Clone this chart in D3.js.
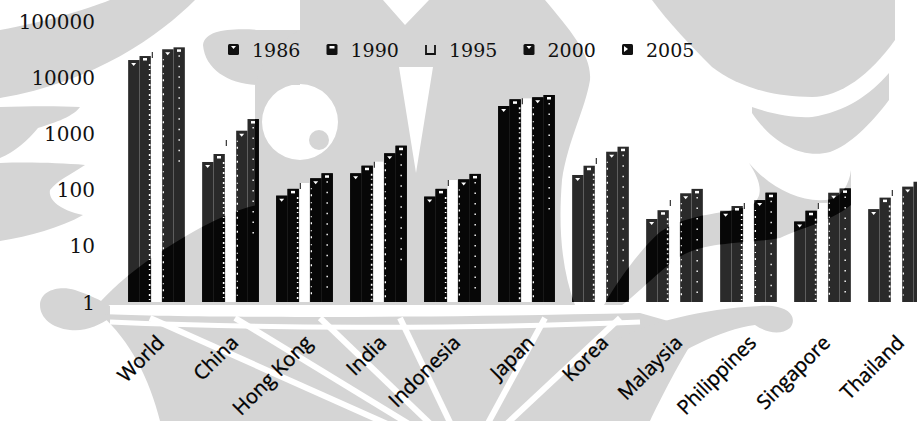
<!DOCTYPE html>
<html>
<head>
<meta charset="utf-8">
<script src="https://cdn.jsdelivr.net/npm/d3@7"></script>
<style>
  html, body { margin: 0; padding: 0; background: #fff; }
  svg { display: block; }
</style>
</head>
<body>
<svg id="chart" width="917" height="421"></svg>
<script>
// Categories and yearly values (log scale)
const categories = ["World", "China", "Hong Kong", "India", "Indonesia", "Japan", "Korea", "Malaysia", "Philippines", "Singapore", "Thailand"];
const years = ["1986", "1990", "1995", "2000", "2005"];
const v1986 = [20200, 310, 78, 195, 75, 3070, 182, 30, 42, 27, 45];
const v1990 = [23800, 430, 103, 266, 103, 4040, 266, 43, 51, 42, 72];
const v1995 = [28000, 760, 131, 314, 148, 4200, 365, 65, 58, 58, 98];
const v2000 = [31400, 1117, 159, 443, 152, 4390, 472, 86, 65, 88, 113];
const v2005 = [34000, 1800, 195, 604, 190, 4820, 580, 103, 88, 105, 138];
const yTicks = [1, 10, 100, 1000, 10000, 100000];

const seriesValues = [v1986, v1990, v1995, v2000, v2005];
const rows = [];
categories.forEach((c, i) => {
  years.forEach((yr, j) => rows.push({ cat: c, year: yr, value: seriesValues[j][i] }));
});

const svg = d3.select("#chart");

// Scales
const x0 = d3.scaleBand().domain(categories).range([119.5, 119.5 + 74 * categories.length]);
const x1 = d3.scaleBand().domain(years).range([0, x0.bandwidth()]).paddingOuter(0.763);
const y = d3.scaleLog().domain([1, 100000]).range([302, 21]);

// Faint emblem in the background
const emblem = [
  // left arcs
  "M0,30 C45,22 85,10 110,0 L195,0 C160,35 95,82 0,98 Z",
  "M0,107 C30,106 60,106 80,107 C72,118 50,124 38,128 C28,140 15,152 0,158 Z",
  "M0,163 C30,162 60,163 85,165 C70,175 58,180 50,190 C48,200 60,210 83,215 C60,228 30,236 0,241 Z",
  "M40,305 C40,290 60,285 75,290 C90,295 100,300 110,306 L110,318 C100,325 85,332 70,330 C52,328 40,318 40,305 Z",
  "M100,302 C125,275 160,250 200,228 C225,215 245,207 258,205 L258,305 L100,305 Z",
  // lower fan
  "M100,314 C200,318 420,318 640,313 L700,330 C680,360 660,400 650,421 L160,421 C150,380 130,340 100,314 Z",
  "M612,342 C650,322 700,309 760,306 C790,304 798,318 790,328 C780,336 765,332 755,325 C720,330 680,350 640,380 L612,402 Z",
  // centre figure
  "M203,45 C205,30 230,28 260,30 L300,30 L300,85 L260,85 C230,85 205,70 203,45 Z",
  "M255,85 C262,60 280,40 300,30 L300,0 L383,0 L405,25 L429,0 L545,0 C570,30 592,55 590,80 C585,110 568,140 562,180 C558,230 562,270 575,305 L255,305 Z M338,122 A38,38 0 1,0 262,122 A38,38 0 1,0 338,122 Z M399,67 L433,67 L416,173 Z",
  "M309,140 A10,10 0 1,0 329,140 A10,10 0 1,0 309,140 Z",
  // right crescents
  "M652,0 L895,0 L895,40 C870,75 840,97 812,97 C770,97 735,85 712,67 C690,45 668,22 652,0 Z",
  "M752,107 C775,115 795,118 812,117 C845,112 870,95 889,73 L889,100 C870,125 850,145 830,152 C800,160 770,140 752,113 Z",
  "M749,163 C772,190 805,205 832,199 C842,195 849,185 851,170 L851,205 C830,222 800,228 780,238 C740,245 700,240 672,262 C650,280 630,300 622,305 L604,305 C618,280 640,250 660,232 C690,212 730,214 752,205 C765,195 760,180 749,163 Z"
];

const defs = svg.append("defs");
const clip = defs.append("clipPath").attr("id", "emblemClip");
emblem.forEach(d => clip.append("path").attr("d", d).attr("clip-rule", "evenodd"));

const bg = svg.append("g").attr("fill", "#d5d5d5").attr("fill-rule", "evenodd");
emblem.forEach(d => bg.append("path").attr("d", d));
// light rays across the lower fan
const rays = [150, 235, 320, 400, 545, 620];
bg.selectAll("line.ray").data(rays).join("line")
  .attr("x1", 468).attr("y1", 460)
  .attr("x2", d => d).attr("y2", 318)
  .attr("stroke", "#fff").attr("stroke-width", 6);
bg.append("path").attr("d", "M110,322 C250,328 450,330 640,322")
  .attr("fill", "none").attr("stroke", "#fff").attr("stroke-width", 5);

// Bars
const solid = rows.filter(r => r.year !== "1995");
const hollow = rows.filter(r => r.year === "1995");
const bx = r => x0(r.cat) + x1(r.year);
const bw = x1.bandwidth();

function drawBars(g, fill) {
  g.selectAll("rect").data(solid).join("rect")
    .attr("x", bx).attr("width", bw)
    .attr("y", r => y(r.value))
    .attr("height", r => y(1) - y(r.value))
    .attr("fill", fill);
}
drawBars(svg.append("g"), "#2a2a2a");
drawBars(svg.append("g").attr("clip-path", "url(#emblemClip)"), "#070707");

// 1995 bars: white with a short dark tick at the top
const g95 = svg.append("g");
g95.selectAll("rect").data(hollow).join("rect")
  .attr("x", r => bx(r) + 0.8).attr("width", bw - 1.6)
  .attr("y", r => y(r.value))
  .attr("height", r => y(1) - y(r.value))
  .attr("fill", "#fff");
g95.selectAll("line").data(hollow).join("line")
  .attr("x1", r => bx(r) + 1.5).attr("x2", r => bx(r) + 1.5)
  .attr("y1", r => y(r.value)).attr("y2", r => y(r.value) + 6)
  .attr("stroke", "#333").attr("stroke-width", 1.2);

// speckled edges along the light stripe and inside the latest bars
const speck = svg.append("g").attr("stroke", "#fff").attr("fill", "none");
speck.selectAll("line.e90").data(rows.filter(r => r.year === "1990")).join("line")
  .attr("x1", r => bx(r) + bw - 1.2).attr("x2", r => bx(r) + bw - 1.2)
  .attr("y1", r => y(r.value) + 8).attr("y2", y(1) - 2)
  .attr("stroke-width", 1.6).attr("stroke-dasharray", "2 3 1 4");
speck.selectAll("line.e00").data(rows.filter(r => r.year === "2000")).join("line")
  .attr("x1", r => bx(r) + 1.2).attr("x2", r => bx(r) + 1.2)
  .attr("y1", r => y(r.value) + 10).attr("y2", y(1) - 2)
  .attr("stroke-width", 1.3).attr("stroke-dasharray", "1 5 2 6");
speck.selectAll("line.e05").data(rows.filter(r => r.year === "2005")).join("line")
  .attr("x1", r => bx(r) + bw / 2).attr("x2", r => bx(r) + bw / 2)
  .attr("y1", r => y(r.value) + 8).attr("y2", r => Math.min(y(1) - 4, y(r.value) + 120))
  .attr("stroke-width", 1.4).attr("stroke-dasharray", "1.5 9");

// small marks at bar tops
const marks = svg.append("g").attr("fill", "#fff");
solid.forEach(r => {
  const x = bx(r), t = y(r.value);
  if (r.year === "1986" || r.year === "2000") {
    marks.append("path").attr("d", `M${x + 3},${t + 3} L${x + 8},${t + 3} L${x + 5.5},${t + 6} Z`);
  } else {
    marks.append("rect").attr("x", x + 3.5).attr("y", t + 2).attr("width", 4).attr("height", 2.5);
  }
});

// Y axis
const yAxis = d3.axisLeft(y).tickValues(yTicks).tickFormat(d3.format("d")).tickSize(0).tickPadding(5);
const ya = svg.append("g").attr("transform", "translate(100,0)").call(yAxis);
ya.select(".domain").remove();
ya.selectAll("text")
  .attr("font-family", "'DejaVu Serif', serif")
  .attr("font-size", 20)
  .attr("fill", "#111")
  .attr("dy", "0.35em");

// X labels
svg.append("g").selectAll("text").data(categories).join("text")
  .attr("transform", d => `translate(${x0(d) + x0.bandwidth() / 2 + 9},344) rotate(-45)`)
  .attr("text-anchor", "end")
  .attr("font-family", "'Open Sans', sans-serif")
  .attr("font-size", 20)
  .attr("fill", "#000")
  .attr("stroke", "#000")
  .attr("stroke-width", 0.35)
  .text(d => d);

// Legend
const lg = svg.append("g");
const lx = d3.scaleLinear().domain([0, years.length - 1]).range([228, 622]);
years.forEach((yr, i) => {
  const g = lg.append("g").attr("transform", `translate(${lx(i)},44)`);
  if (yr === "1995") {
    g.append("path").attr("d", "M1,1 L1,10 L10,10 L10,1").attr("fill", "none").attr("stroke", "#111").attr("stroke-width", 1.8);
  } else {
    g.append("rect").attr("width", 11).attr("height", 11).attr("rx", 1.5).attr("fill", "#111");
    if (yr === "1986" || yr === "2000") {
      g.append("path").attr("d", "M3,2 L8,2 L5.5,5 Z").attr("fill", "#fff");
    } else if (yr === "1990") {
      g.append("rect").attr("x", 3).attr("y", 2).attr("width", 5).attr("height", 2.5).attr("fill", "#fff");
    } else {
      g.append("path").attr("d", "M2,2 L6,5 L2,8 Z").attr("fill", "#fff");
    }
  }
  g.append("text").attr("x", 24).attr("y", 12.5)
    .attr("font-family", "'DejaVu Serif', serif")
    .attr("font-size", 19)
    .attr("fill", "#111")
    .text(yr);
});
</script>
</body>
</html>
